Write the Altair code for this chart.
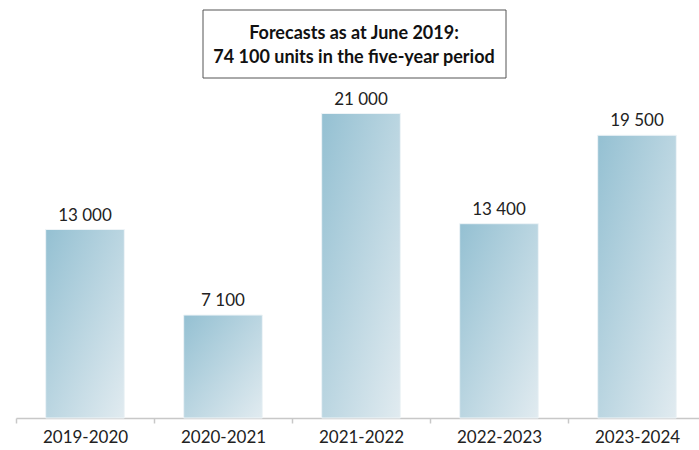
import altair as alt
import pandas as pd

periods = ["2019-2020", "2020-2021", "2021-2022", "2022-2023", "2023-2024"]
units = [13000, 7100, 21000, 13400, 19500]
value_labels = ["13 000", "7 100", "21 000", "13 400", "19 500"]
title_lines = ["Forecasts as at June 2019:", "74 100 units in the five-year period"]

df = pd.DataFrame({"period": periods, "units": units, "label": value_labels})

FONT = "Lato"
gradient = {
    "gradient": "linear",
    "x1": 0, "y1": 0, "x2": 1, "y2": 1,
    "stops": [
        {"offset": 0, "color": "#94c0d2"},
        {"offset": 1, "color": "#e1ebf0"},
    ],
}

x_enc = alt.X(
    "period:N",
    sort=periods,
    scale=alt.Scale(range=[0, 690], paddingInner=0, paddingOuter=0),
    axis=alt.Axis(
        title=None, labelAngle=0, tickBand="extent", tickSize=5,
        tickColor="#c8c8c8", domainColor="#c8c8c8", domainWidth=1.5, tickWidth=1.5,
        labelFont=FONT, labelFontSize=17, labelColor="#222222", labelPadding=6,
    ),
)
y_enc = alt.Y("units:Q", scale=alt.Scale(domain=[0, 22000]), axis=None)

base = alt.Chart(df)

bars = base.mark_bar(width={"band": 0.57}, fill=gradient, stroke="#eef4f7", strokeWidth=1).encode(
    x=x_enc, y=y_enc
)

texts = base.mark_text(dy=-9, baseline="alphabetic", font=FONT, fontSize=17, color="#222222").encode(
    x=alt.X("period:N", sort=periods), y="units:Q", text="label:N"
)

one = alt.Data(values=[{"a": 1}])
box = alt.Chart(one).mark_rect(fill="white", stroke="#555555", strokeWidth=1).encode(
    x=alt.value(187), x2=alt.value(490), y=alt.value(-89), y2=alt.value(-21)
)
t1 = alt.Chart(one).mark_text(font=FONT, fontSize=18, fontWeight="bold", color="#111111",
                              baseline="alphabetic", align="center", text=title_lines[0]).encode(
    x=alt.value(338), y=alt.value(-60)
)
t2 = alt.Chart(one).mark_text(font=FONT, fontSize=18, fontWeight="bold", color="#111111",
                              baseline="alphabetic", align="center", text=title_lines[1]).encode(
    x=alt.value(338), y=alt.value(-36)
)

chart = alt.layer(bars, texts, box, t1, t2).properties(
    width=683, height=319,
    autosize=alt.AutoSizeParams(type="none"),
    padding={"left": 16, "top": 99, "right": 0, "bottom": 32},
).configure_view(stroke=None)

chart.save("out.html", embed_options={"renderer": "svg", "actions": False})
